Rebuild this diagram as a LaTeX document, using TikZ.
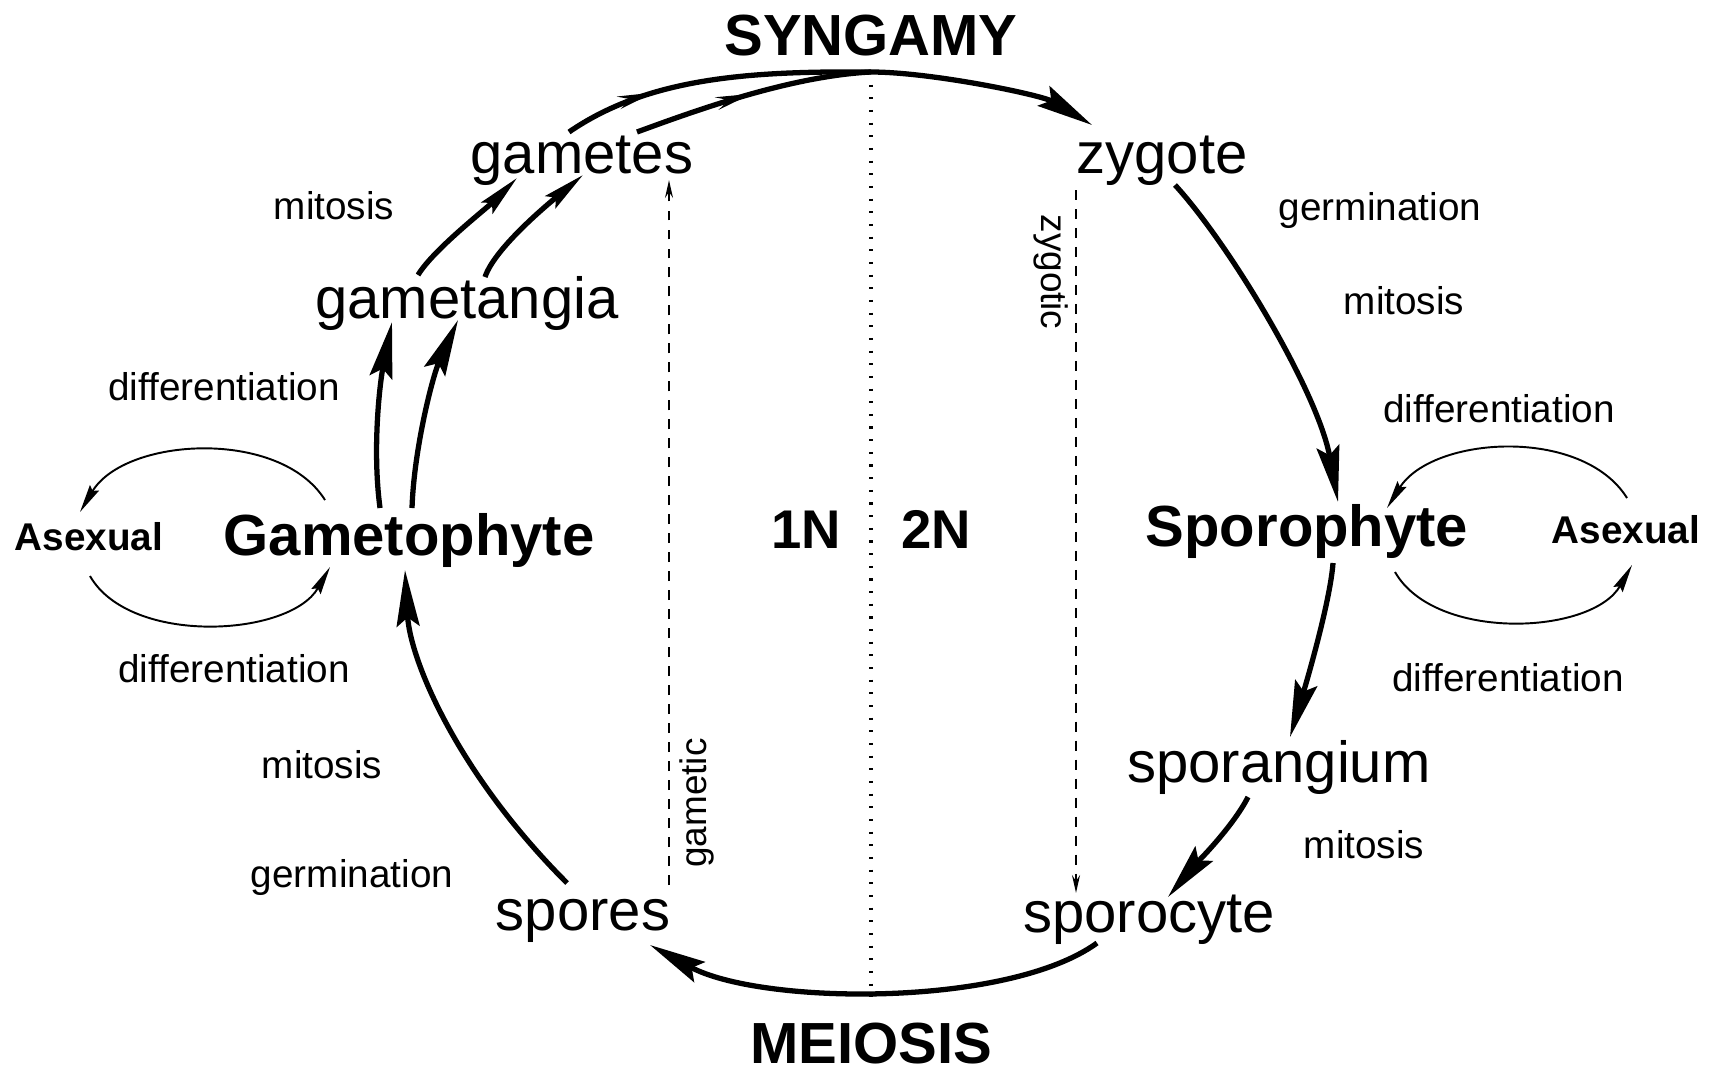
\documentclass[tikz,border=0pt]{standalone}
\usepackage{fontspec}
\setmainfont{Liberation Sans}
\usetikzlibrary{arrows.meta,calc,decorations.markings}
\tikzset{
 big/.style={font=\fontsize{16.5}{18}\selectfont,inner sep=0pt,anchor=base},
 bigb/.style={big,font=\fontsize{16.5}{18}\selectfont\bfseries},
 ploid/.style={big,font=\fontsize{15.5}{18}\selectfont\bfseries},
 lbl/.style={font=\fontsize{11}{13}\selectfont,inner sep=0pt,anchor=base},
 lblb/.style={lbl,font=\fontsize{11}{13}\selectfont\bfseries},
 rot/.style={font=\fontsize{10.5}{12}\selectfont,inner sep=0pt},
 cyc/.style={line width=1.5pt,-{Stealth[length=16pt,width=6.5pt,inset=2.5pt]}},
 cycs/.style={line width=1.5pt,-{Stealth[length=12pt,width=4.5pt,inset=2pt]}},
 fuse/.style={line width=1.5pt,postaction={decorate},decoration={markings,mark=at position #1 with {\arrow{Stealth[length=10pt,width=3.5pt]}}}},
 asx/.style={line width=0.55pt,-{Stealth[length=8pt,width=3pt,inset=1pt]}},
 dep/.style={line width=0.8pt,dash pattern=on 2.8pt off 2.6pt,-{Stealth[length=5pt,width=2.2pt]}},
 divline/.style={line width=1pt,dash pattern=on 0.6pt off 3pt}
}
\begin{document}
\begin{tikzpicture}[x=0.01cm,y=-0.01cm]
\useasboundingbox (0,0) rectangle (1713,1072);
\node[bigb] (syngamy) at (871,55) {SYNGAMY};
\node[bigb] (meiosis) at (871,1063) {MEIOSIS};
\node[big] (gametes) at (582,173) {gametes};
\node[big] (zygote) at (1162,173) {zygote};
\node[big] (gametangia) at (467,318) {gametangia};
\node[bigb] (gametophyte) at (409,555) {Gametophyte};
\node[bigb] (sporophyte) at (1307,546) {Sporophyte};
\node[lblb] (asexl) at (89,550) {Asexual};
\node[lblb] (asexr) at (1626,543) {Asexual};
\node[ploid] (onen) at (806,548) {1N};
\node[ploid] (twon) at (936,548) {2N};
\node[big] (sporangium) at (1279,782) {sporangium};
\node[big] (sporocyte) at (1149,932) {sporocyte};
\node[big] (spores) at (583,930) {spores};
\node[lbl] (mitg1) at (334,219) {mitosis};
\node[lbl] (difg1) at (224,400) {differentiation};
\node[lbl] (difg2) at (234,682) {differentiation};
\node[lbl] (mitg2) at (322,778) {mitosis};
\node[lbl] (gerg) at (352,887) {germination};
\node[lbl] (gers) at (1380,220) {germination};
\node[lbl] (mits1) at (1404,314) {mitosis};
\node[lbl] (difs1) at (1499,422) {differentiation};
\node[lbl] (difs2) at (1508,691) {differentiation};
\node[lbl] (mits2) at (1364,858) {mitosis};
\node[rot,rotate=90] (gametic) at (697,803) {gametic};
\node[rot,rotate=-90] (zygotic) at (1051,272) {zygotic};
\coordinate (syn) at (871,72);
\coordinate (mei) at (871,997);
\draw[divline] (syn) -- (mei);
\draw[cyc] ($(spores.base)+(-16,-47)$) .. controls +(-110,-110) and +(5,90) .. ($(gametophyte.base)+(-4,15)$);
\draw[cyc] ($(gametophyte.base)+(-29,-47)$) .. controls +(-8,-60) and +(-12,60) .. ($(gametangia.base)+(-75,4)$);
\draw[cyc] ($(gametophyte.base)+(3,-47)$) .. controls +(2,-60) and +(-25,55) .. ($(gametangia.base)+(-9,2)$);
\draw[cycs] ($(gametangia.base)+(-49,-43)$) .. controls +(15,-25) and +(-30,30) .. ($(gametes.base)+(-65,5)$);
\draw[cycs] ($(gametangia.base)+(18,-41)$) .. controls +(10,-30) and +(-30,25) .. ($(gametes.base)+(1,2)$);
\draw[fuse=0.3] ($(gametes.base)+(-13,-41)$) .. controls +(80,-55) and +(-120,-1) .. (syn);
\draw[fuse=0.5] ($(gametes.base)+(55,-41)$) .. controls +(60,-22) and +(-80,4) .. (syn);
\draw[cyc] (syn) .. controls +(60,0) and +(-50,-30) .. ($(zygote.base)+(-70,-48)$);
\draw[cyc] ($(zygote.base)+(13,12)$) .. controls +(55,60) and +(-20,-110) .. ($(sporophyte.base)+(31,-44)$);
\draw[cyc] ($(sporophyte.base)+(26,17)$) .. controls +(-3,40) and +(15,-50) .. ($(sporangium.base)+(11,-45)$);
\draw[cyc] ($(sporangium.base)+(-31,15)$) .. controls +(-15,30) and +(25,-30) .. ($(sporocyte.base)+(19,-35)$);
\draw[cyc] ($(sporocyte.base)+(-52,11)$) .. controls +(-90,65) and +(110,60) .. ($(spores.base)+(67,15)$);
\draw[dep] ($(spores.base)+(86,-45)$) -- ($(gametes.base)+(87,7)$);
\draw[dep] ($(zygote.base)+(-86,17)$) -- ($(sporocyte.base)+(-73,-39)$);
\draw[asx] ($(gametophyte.base)+(-84,-55)$) .. controls +(-45,-72) and +(45,-75) .. ($(asexl.base)+(-9,-38)$);
\draw[asx] ($(asexl.base)+(1,26)$) .. controls +(40,70) and +(-40,70) .. ($(gametophyte.base)+(-79,12)$);
\draw[asx] ($(asexr.base)+(1,-45)$) .. controls +(-45,-72) and +(45,-72) .. ($(sporophyte.base)+(80,-38)$);
\draw[asx] ($(sporophyte.base)+(88,26)$) .. controls +(40,70) and +(-40,70) .. ($(asexr.base)+(6,22)$);
\end{tikzpicture}
\end{document}
